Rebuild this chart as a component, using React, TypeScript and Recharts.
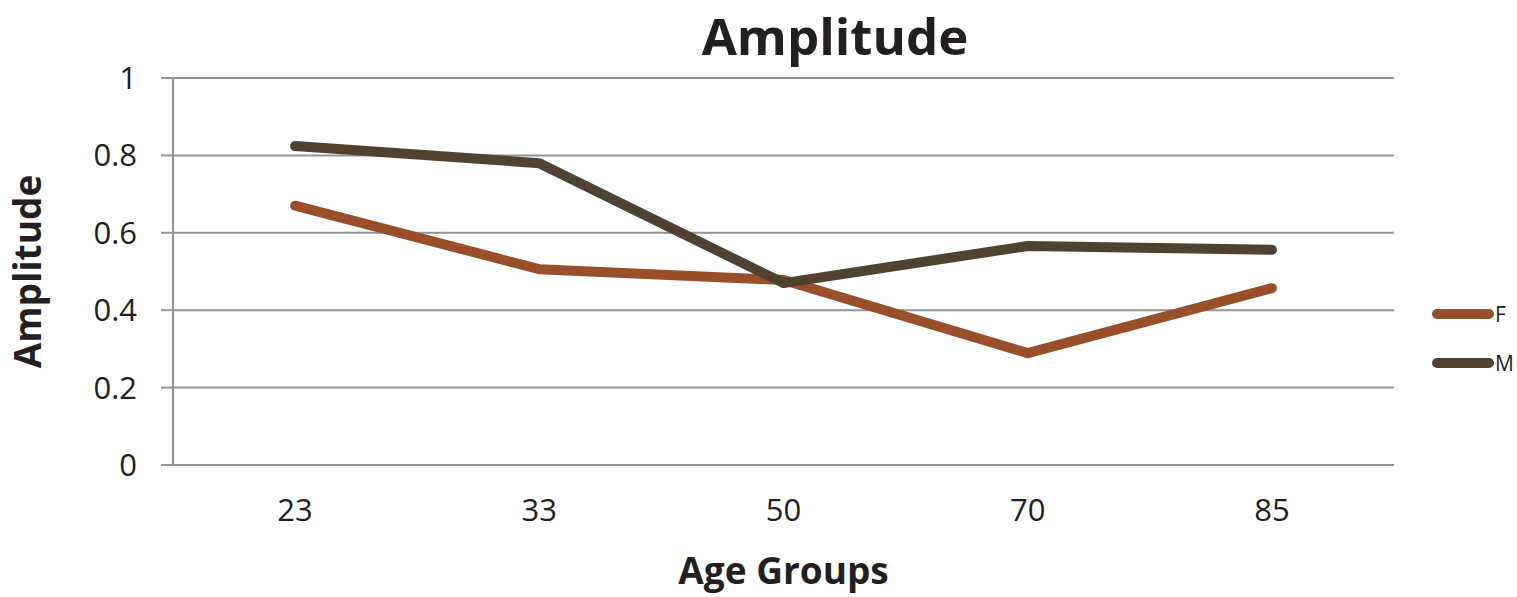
import { LineChart, Line, XAxis, YAxis, CartesianGrid, Legend } from "recharts";

const ageGroups = ["23", "33", "50", "70", "85"];
const femaleAmplitude = [0.67, 0.506, 0.478, 0.289, 0.457];
const maleAmplitude = [0.824, 0.78, 0.47, 0.566, 0.556];
const yTicks = [0, 0.2, 0.4, 0.6, 0.8, 1];
const bandEdges = [0, 1, 2, 3, 4, 5];

const FONT = "'Open Sans', 'DejaVu Sans', sans-serif";
const TEXT = "#231F20";
const GRID = "#949494";
const F_COLOR = "#9A4F2B";
const M_COLOR = "#4F4231";
const LEGEND_W = 90;

const data = ageGroups.map((age, i) => ({
  age,
  F: femaleAmplitude[i],
  M: maleAmplitude[i],
}));

// Short thick stroke + letter, stacked on the right
function SideLegend({ payload }: { payload?: { value: string; color: string }[] }) {
  if (!payload) return null;
  return (
    <div style={{ fontFamily: FONT, color: TEXT, width: LEGEND_W }}>
      {payload.map((p) => (
        <div
          key={p.value}
          style={{ display: "flex", alignItems: "center", height: 49 }}
        >
          <div
            style={{
              width: 62,
              height: 10,
              borderRadius: 5,
              background: p.color,
            }}
          />
          <span style={{ fontSize: 21, marginLeft: 1 }}>{p.value}</span>
        </div>
      ))}
    </div>
  );
}

export default function App() {
  return (
    <div style={{ position: "absolute", left: 0, top: 0, background: "#fff" }}>
      <LineChart
        width={1517}
        height={597}
        data={data}
        margin={{ top: 78, right: 123 - LEGEND_W, left: 0, bottom: 0 }}
      >
        <text
          x={835}
          y={55}
          textAnchor="middle"
          fontFamily={FONT}
          fontWeight={700}
          fontSize={51}
          fill={TEXT}
        >
          Amplitude
        </text>
        <CartesianGrid
          vertical={false}
          stroke={GRID}
          strokeWidth={2}
          horizontalValues={yTicks}
        />
        <XAxis
          xAxisId="cat"
          dataKey="age"
          scale="band"
          height={132}
          axisLine={false}
          tickLine={false}
          tickMargin={28}
          tick={{ fontSize: 31, fill: TEXT, fontFamily: FONT }}
          label={{
            value: "Age Groups",
            position: "insideBottom",
            offset: 13,
            fontSize: 37,
            fontWeight: 700,
            fill: TEXT,
            fontFamily: FONT,
          }}
        />
        {/* frame axis: line plus tick marks on band edges */}
        <XAxis
          xAxisId="edges"
          type="number"
          domain={[0, 5]}
          ticks={bandEdges}
          height={0}
          tick={false}
          tickSize={11}
          axisLine={{ stroke: GRID, strokeWidth: 2 }}
          tickLine={{ stroke: GRID, strokeWidth: 2 }}
          allowDataOverflow
        />
        <YAxis
          width={173}
          domain={[0, 1]}
          ticks={yTicks}
          tickSize={12}
          tickMargin={24}
          axisLine={{ stroke: GRID, strokeWidth: 2 }}
          tickLine={{ stroke: GRID, strokeWidth: 2 }}
          tick={{ fontSize: 31, fill: TEXT, fontFamily: FONT }}
          label={{
            value: "Amplitude",
            angle: -90,
            position: "insideLeft",
            offset: 28,
            fontSize: 37,
            fontWeight: 700,
            fill: TEXT,
            fontFamily: FONT,
            style: { textAnchor: "middle" },
          }}
        />
        <Legend
          layout="vertical"
          align="right"
          verticalAlign="top"
          wrapperStyle={{ left: 1432, top: 289, width: LEGEND_W }}
          content={<SideLegend />}
        />
        <Line
          xAxisId="cat"
          dataKey="F"
          stroke={F_COLOR}
          strokeWidth={10}
          strokeLinecap="round"
          strokeLinejoin="round"
          dot={false}
          isAnimationActive={false}
        />
        <Line
          xAxisId="cat"
          dataKey="M"
          stroke={M_COLOR}
          strokeWidth={10}
          strokeLinecap="round"
          strokeLinejoin="round"
          dot={false}
          isAnimationActive={false}
        />
      </LineChart>
    </div>
  );
}
